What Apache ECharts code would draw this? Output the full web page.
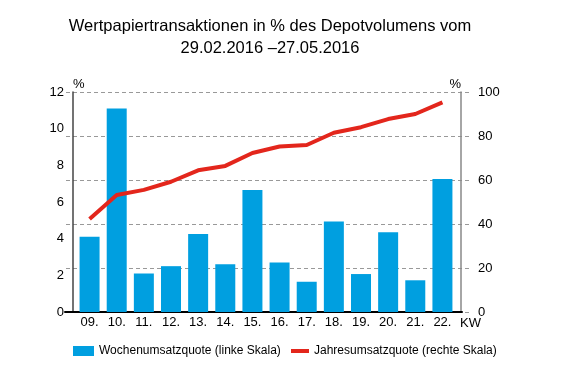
<!DOCTYPE html>
<html><head><meta charset="utf-8">
<script src="https://cdn.jsdelivr.net/npm/echarts@6/dist/echarts.min.js"></script>
<style>html,body{margin:0;padding:0;background:#fff}#c{width:561px;height:384px}</style>
</head><body><div id="c"></div>
<script>
var categories = ['09.','10.','11.','12.','13.','14.','15.','16.','17.','18.','19.','20.','21.','22.'];
var wochenQuote = [4.1, 11.1, 2.1, 2.5, 4.25, 2.6, 6.65, 2.7, 1.65, 4.93, 2.07, 4.35, 1.73, 7.25];
var jahresQuote = [42.3, 53.2, 55.5, 59.2, 64.4, 66.4, 72.3, 75.2, 75.9, 81.5, 84, 87.7, 90, 95.3];
var titleText = 'Wertpapiertransaktionen in % des Depotvolumens vom\n29.02.2016 \u201327.05.2016';
var font = "'Liberation Sans', Arial, sans-serif";

var chart = echarts.init(document.getElementById('c'), null, {renderer:'canvas'});
chart.setOption({
  animation: false,
  textStyle: {fontFamily: font},
  title: {
    text: titleText, left: 265, top: 10, textAlign: 'center',
    textStyle: {fontSize: 16.5, fontWeight: 'normal', color: '#000', lineHeight: 22, fontFamily: font}
  },
  legend: [
    {left: 73, top: 345, padding: 0, itemWidth: 21, itemHeight: 10, itemGap: 0,
     data: [{name: 'Wochenumsatzquote (linke Skala)', icon: 'rect'}],
     textStyle: {fontSize: 12, color: '#000'}},
    {left: 291, top: 345, padding: 0, itemWidth: 18, itemHeight: 4, itemGap: 0,
     data: [{name: 'Jahresumsatzquote (rechte Skala)', icon: 'rect'}],
     textStyle: {fontSize: 12, color: '#000'}}
  ],
  grid: [
    {left: 76, width: 380, top: 92, height: 220},
    {left: 66, width: 405, top: 92, height: 220},
    {left: 65, width: 397, top: 92, height: 220}
  ],
  xAxis: [
    {type: 'category', gridIndex: 0, data: categories, boundaryGap: true,
     axisLine: {show: false}, axisTick: {show: false},
     axisLabel: {fontSize: 13, color: '#000', margin: 4, interval: 0},
     name: 'KW', nameLocation: 'end', nameGap: 4, nameMoveOverlap: false,
     nameTextStyle: {fontSize: 13, color: '#000', verticalAlign: 'top', padding: [5,0,0,0]}},
    {type: 'value', gridIndex: 1, show: false, min: 0, max: 1},
    {type: 'value', gridIndex: 2, min: 0, max: 1,
     axisLine: {show: true, lineStyle: {color: '#000', width: 2}},
     axisTick: {show: false}, axisLabel: {show: false}, splitLine: {show: false}}
  ],
  yAxis: [
    {type: 'value', gridIndex: 0, position: 'left', min: 0, max: 12, interval: 2, offset: 3,
     axisLine: {show: true, lineStyle: {color: '#444', width: 1.5}},
     axisTick: {show: false}, splitLine: {show: false},
     axisLabel: {fontSize: 13, color: '#000', margin: 9},
     name: '%', nameLocation: 'end', nameGap: 1, nameMoveOverlap: false,
     nameTextStyle: {fontSize: 13, color: '#000', align: 'left'}},
    {type: 'value', gridIndex: 0, position: 'right', min: 0, max: 100, interval: 20, offset: 5,
     axisLine: {show: true, lineStyle: {color: '#888', width: 1.5}},
     axisTick: {show: false}, splitLine: {show: false},
     axisLabel: {fontSize: 13, color: '#000', margin: 17},
     name: '%', nameLocation: 'end', nameGap: 1, nameMoveOverlap: false,
     nameTextStyle: {fontSize: 13, color: '#000', align: 'right'}},
    {type: 'value', gridIndex: 1, min: 0, max: 100, interval: 20,
     axisLine: {show: false}, axisTick: {show: false}, axisLabel: {show: false},
     splitLine: {show: true, lineStyle: {color: '#999', type: [4,3], width: 1}}},
    {type: 'value', gridIndex: 2, show: false, min: 0, max: 1}
  ],
  series: [
    {name: 'Wochenumsatzquote (linke Skala)', type: 'bar', xAxisIndex: 0, yAxisIndex: 0,
     data: wochenQuote, barWidth: 20, itemStyle: {color: '#009FE0'}, z: 3},
    {name: 'Jahresumsatzquote (rechte Skala)', type: 'line', xAxisIndex: 0, yAxisIndex: 1,
     data: jahresQuote, showSymbol: false, symbol: 'none',
     lineStyle: {color: '#E3261C', width: 4}, itemStyle: {color: '#E3261C'}, z: 4}
  ]
});
</script></body></html>
